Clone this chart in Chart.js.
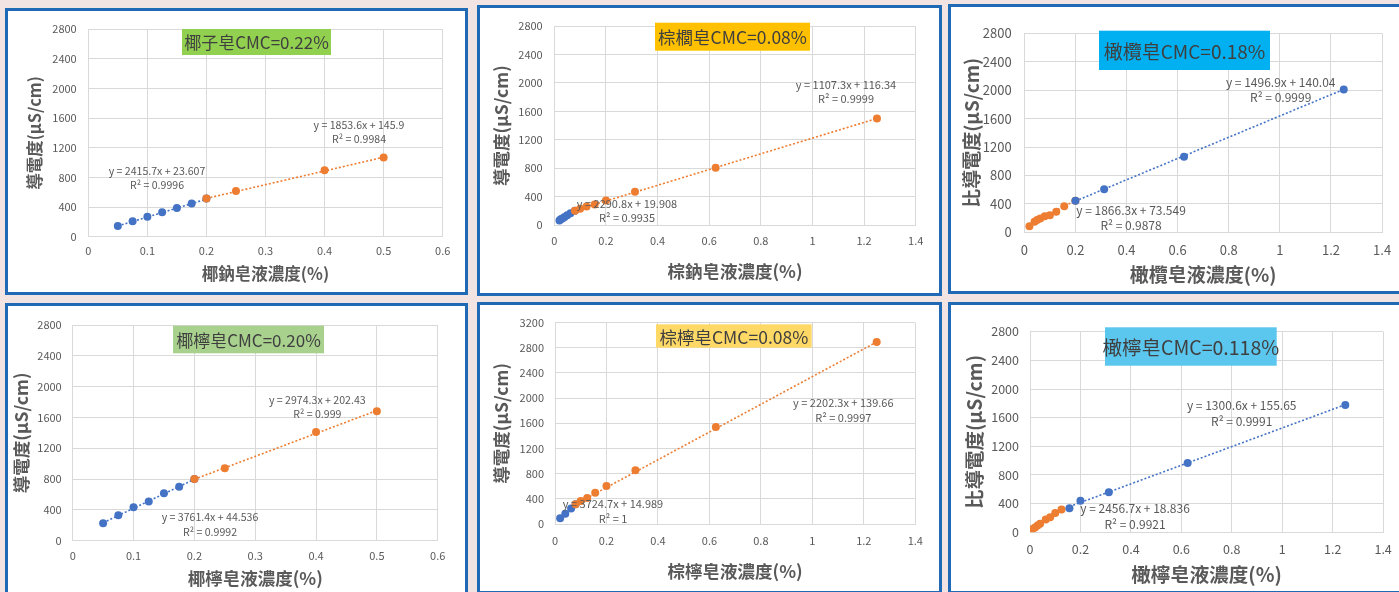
<!DOCTYPE html>
<html>
<head>
<meta charset="utf-8">
<script src="https://cdn.jsdelivr.net/npm/chart.js@4.4.1/dist/chart.umd.min.js"></script>
<style>
  html, body { margin: 0; padding: 0; width: 1399px; height: 592px; overflow: hidden; background: #f1e4e3; }
  .panel { position: absolute; box-sizing: border-box; border: 3px solid #1f69b5; background: #ffffff; overflow: hidden; }
  .panel canvas { position: absolute; left: 0; top: 0; }
</style>
</head>
<body>
<script>
// ---- measurements: conductivity vs. soap concentration ----

// 椰子皂 (coconut, sodium)
const coconutNaLowX  = [0.05, 0.075, 0.1, 0.125, 0.15, 0.175, 0.2];
const coconutNaLowY  = [145, 207, 270, 330, 388, 447, 515];
const coconutNaHighX = [0.2, 0.25, 0.4, 0.5];
const coconutNaHighY = [515, 615, 895, 1070];
const coconutNaLowFit  = [2415.7, 23.607, 0.9996];
const coconutNaHighFit = [1853.6, 145.9, 0.9984];

// 棕櫚皂 (palm, sodium)
const palmNaLowX  = [0.02, 0.025, 0.03125, 0.04, 0.05, 0.0625, 0.08];
const palmNaLowY  = [62, 80, 92, 112, 138, 165, 200];
const palmNaHighX = [0.08, 0.1, 0.125, 0.15625, 0.2, 0.3125, 0.625, 1.25];
const palmNaHighY = [200, 228, 262, 290, 345, 470, 808, 1500];
const palmNaLowFit  = [2290.8, 19.908, 0.9935];
const palmNaHighFit = [1107.3, 116.34, 0.9999];

// 橄欖皂 (olive, sodium)
const oliveNaLowX  = [0.02, 0.04, 0.05, 0.0625, 0.08, 0.1, 0.125, 0.15625, 0.2];
const oliveNaLowY  = [85, 150, 172, 195, 225, 240, 290, 365, 445];
const oliveNaHighX = [0.2, 0.3125, 0.625, 1.25];
const oliveNaHighY = [445, 607, 1062, 2008];
const oliveNaLowFit  = [1866.3, 73.549, 0.9878];
const oliveNaHighFit = [1496.9, 140.04, 0.9999];

// 椰檸皂
const coconutCiLowX  = [0.05, 0.075, 0.1, 0.125, 0.15, 0.175, 0.2];
const coconutCiLowY  = [228, 330, 435, 510, 615, 700, 800];
const coconutCiHighX = [0.2, 0.25, 0.4, 0.5];
const coconutCiHighY = [800, 940, 1410, 1680];
const coconutCiLowFit  = [3761.4, 44.536, 0.9992];
const coconutCiHighFit = [2974.3, 202.43, 0.999];

// 棕檸皂
const palmCiLowX  = [0.02, 0.04, 0.0625, 0.08];
const palmCiLowY  = [90, 164, 248, 313];
const palmCiHighX = [0.08, 0.1, 0.125, 0.15625, 0.2, 0.3125, 0.625, 1.25];
const palmCiHighY = [313, 365, 415, 495, 605, 855, 1540, 2890];
const palmCiLowFit  = [3724.7, 14.989, 1];
const palmCiHighFit = [2202.3, 139.66, 0.9997];

// 橄檸皂
const oliveCiLowX  = [0.01, 0.02, 0.03, 0.04, 0.0625, 0.08, 0.1, 0.125];
const oliveCiLowY  = [45, 68, 95, 120, 180, 210, 268, 318];
const oliveCiHighX = [0.15625, 0.2, 0.3125, 0.625, 1.25];
const oliveCiHighY = [337, 442, 560, 968, 1778];
const oliveCiLowFit  = [2456.7, 18.836, 0.9921];
const oliveCiHighFit = [1300.6, 155.65, 0.9991];

// ---- texts and axis ranges ----
const cmcLabels = ['椰子皂CMC=0.22%', '棕櫚皂CMC=0.08%', '橄欖皂CMC=0.18%', '椰檸皂CMC=0.20%', '棕檸皂CMC=0.08%', '橄檸皂CMC=0.118%'];
const xTitles = ['椰鈉皂液濃度(%)', '棕鈉皂液濃度(%)', '橄欖皂液濃度(%)', '椰檸皂液濃度(%)', '棕檸皂液濃度(%)', '橄檸皂液濃度(%)'];
const yTitles = ['導電度(µS/cm)', '導電度(µS/cm)', '比導電度(µS/cm)', '導電度(µS/cm)', '導電度(µS/cm)', '比導電度(µS/cm)'];
const xMax  = [0.6, 1.4, 1.4, 0.6, 1.4, 1.4];
const xStep = [0.1, 0.2, 0.2, 0.1, 0.2, 0.2];
const yMax  = [2800, 2800, 2800, 2800, 3200, 2800];
const yStep = [400, 400, 400, 400, 400, 400];

const BLUE = '#4472c4', ORANGE = '#ed7d31';
const FONT = "'Noto Sans CJK TC', 'Noto Sans', sans-serif";
const GREY = '#595959';

// ---- panel geometry (page pixels) ----
const panels = [
  { box: [5, 8, 463, 287],   area: [88.3, 27.7, 442.7, 236.7],   yTitleX: 35,    xTitleY: 274,   yTickR: 76.7,   xTickY: 250.7, tick: 11,   axisFont: 16.5,
    cmcBox: [182, 29, 331, 55],       cmcColor: '#92d050', cmcFont: 17,   eqFont: 10.6, eqGap: 14,   eqLow: [157, 171],    eqHigh: [359, 125] },
  { box: [477, 5, 465, 291], area: [554.3, 21.7, 915.7, 225],    yTitleX: 501.7, xTitleY: 271.7, yTickR: 542.7,  xTickY: 240.7, tick: 11,   axisFont: 17.5,
    cmcBox: [655, 22.7, 810, 50.7],   cmcColor: '#ffc000', cmcFont: 17.5, eqFont: 11,  eqGap: 14.5, eqLow: [627, 203.5],  eqHigh: [846, 84.7] },
  { box: [948, 4, 456, 290], area: [1024.3, 33.3, 1388.3, 232.3], yTitleX: 971.7, xTitleY: 275,   yTickR: 1011.7, xTickY: 250,   tick: 13,   axisFont: 19,
    cmcBox: [1099, 30.7, 1270, 70],   cmcColor: '#00b0f0', cmcFont: 19,   eqFont: 12,  eqGap: 15.5, eqLow: [1131, 210],   eqHigh: [1280.7, 82.3] },
  { box: [5, 303, 463, 292], area: [72.7, 325, 437.7, 540.7],    yTitleX: 21.7,  xTitleY: 578.3, yTickR: 61.7,   xTickY: 555.7, tick: 11,   axisFont: 17.5,
    cmcBox: [173, 325.7, 324, 353.3], cmcColor: '#a9d18e', cmcFont: 17,   eqFont: 10.6, eqGap: 14.4, eqLow: [210, 517.3],  eqHigh: [317.3, 400] },
  { box: [477, 302, 465, 292], area: [555, 320, 915.3, 524],     yTitleX: 501.7, xTitleY: 571,   yTickR: 544,    xTickY: 540.7, tick: 11,   axisFont: 17.5,
    cmcBox: [656, 324.3, 811.7, 347.7], cmcColor: '#ffd966', cmcFont: 17.5, eqFont: 11, eqGap: 14.4, eqLow: [613, 504],    eqHigh: [843.3, 403.3] },
  { box: [948, 302, 456, 292], area: [1030, 331.7, 1387.7, 532.3], yTitleX: 975, xTitleY: 575,   yTickR: 1019,   xTickY: 549,   tick: 12.5, axisFont: 19.5,
    cmcBox: [1105, 327.3, 1276.7, 365.7], cmcColor: '#5bc6ee', cmcFont: 19.5, eqFont: 12, eqGap: 16, eqLow: [1135, 508.3], eqHigh: [1241.7, 405.7] }
];

const series = [
  [coconutNaLowX, coconutNaLowY, coconutNaHighX, coconutNaHighY, coconutNaLowFit, coconutNaHighFit, BLUE, ORANGE],
  [palmNaLowX, palmNaLowY, palmNaHighX, palmNaHighY, palmNaLowFit, palmNaHighFit, BLUE, ORANGE],
  [oliveNaLowX, oliveNaLowY, oliveNaHighX, oliveNaHighY, oliveNaLowFit, oliveNaHighFit, ORANGE, BLUE],
  [coconutCiLowX, coconutCiLowY, coconutCiHighX, coconutCiHighY, coconutCiLowFit, coconutCiHighFit, BLUE, ORANGE],
  [palmCiLowX, palmCiLowY, palmCiHighX, palmCiHighY, palmCiLowFit, palmCiHighFit, BLUE, ORANGE],
  [oliveCiLowX, oliveCiLowY, oliveCiHighX, oliveCiHighY, oliveCiLowFit, oliveCiHighFit, ORANGE, BLUE]
];

const toPoints = (xs, ys) => xs.map((x, k) => ({ x: x, y: ys[k] }));
// linear trendline across the span of its own points
function trend(xs, fit) {
  const a = Math.min(...xs), b = Math.max(...xs);
  return [{ x: a, y: fit[0] * a + fit[1] }, { x: b, y: fit[0] * b + fit[1] }];
}
const eqText = fit => 'y = ' + fit[0] + 'x + ' + fit[1];
const r2Text = fit => 'R² = ' + fit[2];
const fmtNum = v => String(Number(Number(v).toFixed(4)));

function labelsPlugin(i, ox, oy) {
  const L = panels[i];
  const [, , , , lowFit, highFit] = series[i];
  return {
    id: 'labels' + i,
    afterDatasetsDraw(chart) {
      const ctx = chart.ctx;
      ctx.save();
      // CMC tag
      const [x1, y1, x2, y2] = L.cmcBox;
      ctx.fillStyle = L.cmcColor;
      ctx.fillRect(x1 - ox, y1 - oy, x2 - x1, y2 - y1);
      ctx.fillStyle = '#3f3f3f';
      ctx.font = L.cmcFont + 'px ' + FONT;
      ctx.textAlign = 'center';
      ctx.textBaseline = 'middle';
      ctx.fillText(cmcLabels[i], (x1 + x2) / 2 - ox, (y1 + y2) / 2 - oy + 1);
      // trendline equations
      ctx.fillStyle = GREY;
      ctx.font = L.eqFont + 'px ' + FONT;
      [[L.eqLow, lowFit], [L.eqHigh, highFit]].forEach(([p, fit]) => {
        ctx.fillText(eqText(fit), p[0] - ox, p[1] - oy);
        ctx.fillText(r2Text(fit), p[0] - ox, p[1] - oy + L.eqGap);
      });
      ctx.restore();
    }
  };
}

panels.forEach((L, i) => {
  const div = document.createElement('div');
  div.className = 'panel';
  div.style.left = L.box[0] + 'px';
  div.style.top = L.box[1] + 'px';
  div.style.width = L.box[2] + 'px';
  div.style.height = L.box[3] + 'px';
  const canvas = document.createElement('canvas');
  const cw = L.box[2] - 6, ch = L.box[3] - 6;
  canvas.width = cw; canvas.height = ch;
  canvas.style.width = cw + 'px'; canvas.style.height = ch + 'px';
  div.appendChild(canvas);
  document.body.appendChild(div);

  const ox = L.box[0] + 3, oy = L.box[1] + 3;
  const [lowX, lowY, highX, highY, lowFit, highFit, lowColor, highColor] = series[i];
  const yAxisW = L.area[0] - ox;
  const xAxisH = ch - (L.area[3] - oy);
  const tickLH = L.tick * 1.2, titleLH = L.axisFont * 1.2;

  new Chart(canvas, {
    type: 'scatter',
    data: {
      datasets: [
        { data: toPoints(lowX, lowY), backgroundColor: lowColor, borderColor: lowColor, pointRadius: 4, pointBorderWidth: 0, order: 2 },
        { data: toPoints(highX, highY), backgroundColor: highColor, borderColor: highColor, pointRadius: 4, pointBorderWidth: 0, order: 1 },
        { type: 'line', data: trend(lowX, lowFit), borderColor: lowColor, borderWidth: 1.6, borderDash: [2, 2], pointRadius: 0, fill: false, order: 4 },
        { type: 'line', data: trend(highX, highFit), borderColor: highColor, borderWidth: 1.6, borderDash: [2, 2], pointRadius: 0, fill: false, order: 3 }
      ]
    },
    options: {
      responsive: false,
      animation: false,
      events: [],
      layout: { padding: { left: 0, top: L.area[1] - oy, right: cw - (L.area[2] - ox), bottom: 0 } },
      plugins: { legend: { display: false }, tooltip: { enabled: false } },
      scales: {
        x: {
          type: 'linear', min: 0, max: xMax[i],
          ticks: { stepSize: xStep[i], padding: L.xTickY - L.area[3] - tickLH / 2, color: GREY, font: { size: L.tick, family: FONT }, callback: v => fmtNum(v) },
          grid: { color: '#d9d9d9', drawTicks: false },
          border: { color: '#d9d9d9' },
          title: { display: true, text: xTitles[i], color: GREY, font: { size: L.axisFont, weight: 'bold', family: FONT },
                   padding: { top: 0, bottom: ch - (L.xTitleY - oy) - titleLH / 2 } },
          afterFit(s) { s.height = xAxisH; }
        },
        y: {
          type: 'linear', min: 0, max: yMax[i],
          ticks: { stepSize: yStep[i], padding: L.area[0] - L.yTickR, color: GREY, font: { size: L.tick, family: FONT }, callback: v => fmtNum(v) },
          grid: { color: '#d9d9d9', drawTicks: false },
          border: { color: '#d9d9d9' },
          title: { display: true, text: yTitles[i], color: GREY, font: { size: L.axisFont, weight: 'bold', family: FONT },
                   padding: { top: (L.yTitleX - ox) - titleLH / 2, bottom: 0 } },
          afterFit(s) { s.width = yAxisW; }
        }
      }
    },
    plugins: [labelsPlugin(i, ox, oy)]
  });
});
</script>
</body>
</html>
